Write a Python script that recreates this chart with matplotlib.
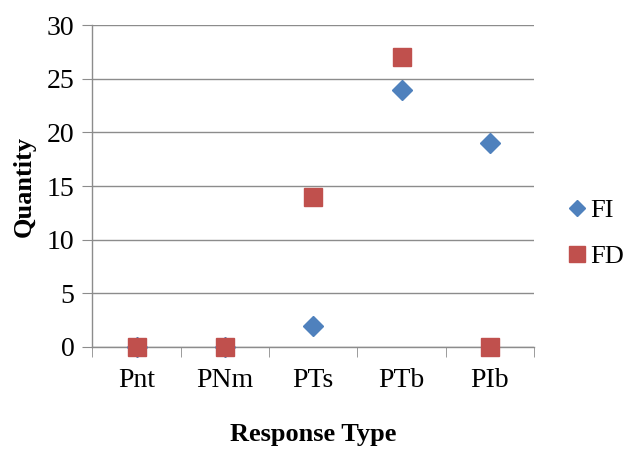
import matplotlib.pyplot as plt
from matplotlib.lines import Line2D

categories = ['Pnt', 'PNm', 'PTs', 'PTb', 'PIb']
fi_values = [0, 0, 2, 24, 19]
fd_values = [0, 0, 14, 27, 0]

plt.rcParams['font.family'] = ['Liberation Serif', 'DejaVu Serif']

fig = plt.figure(figsize=(6.29, 4.5), dpi=100)
ax = fig.add_axes([0.147, 0.229, 0.702, 0.715])

x = list(range(len(categories)))
ax.plot(x, fi_values, linestyle='none', marker='D', markersize=9.7,
        color='#4F81BD', label='FI', zorder=3, clip_on=False)
ax.plot(x, fd_values, linestyle='none', marker='s', markersize=13.5,
        color='#C0504D', label='FD', zorder=4, clip_on=False)

ax.set_xlim(-0.5, len(categories) - 0.5)
ax.set_ylim(0, 30)
ax.set_yticks(range(0, 31, 5))
ax.set_xticks(x)
ax.set_xticklabels(categories)
ax.set_xticks([i - 0.5 for i in range(len(categories) + 1)], minor=True)

ax.grid(axis='y', color='#8c8c8c', linewidth=1)
ax.set_axisbelow(True)
for side in ['top', 'right']:
    ax.spines[side].set_visible(False)
for side in ['left', 'bottom']:
    ax.spines[side].set_color('#8c8c8c')
    ax.spines[side].set_linewidth(1)

ax.tick_params(axis='y', length=7, color='#8c8c8c', labelsize=20, pad=6)
ax.tick_params(axis='x', which='major', length=0, labelsize=20, pad=15)
ax.tick_params(axis='x', which='minor', length=7, color='#8c8c8c')

ax.set_xlabel('Response Type', fontsize=19, fontweight='bold', labelpad=22)
ax.set_ylabel('Quantity', fontsize=19, fontweight='bold', labelpad=8)

handles = [
    Line2D([], [], linestyle='none', marker='D', markersize=8.2, color='#4F81BD'),
    Line2D([], [], linestyle='none', marker='s', markersize=11, color='#C0504D'),
]
fig.legend(handles, ['FI', 'FD'], loc='center left', bbox_to_anchor=(0.876, 0.481),
           frameon=False, fontsize=19, handlelength=0.6, handletextpad=0.2,
           labelspacing=0.85, borderpad=0.2)

fig.savefig('out.png', dpi=100)
